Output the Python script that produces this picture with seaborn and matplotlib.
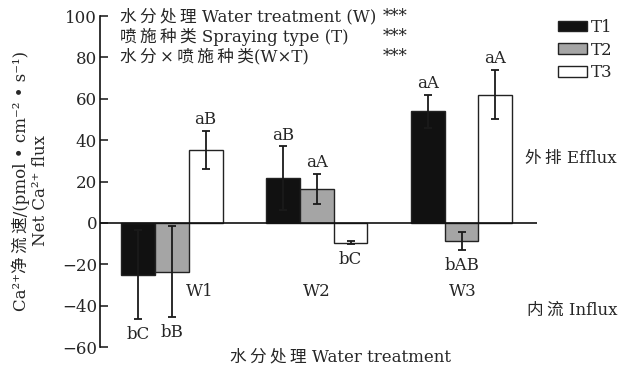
import numpy as np
import pandas as pd
import matplotlib
matplotlib.use("Agg")
import matplotlib.pyplot as plt
import seaborn as sns

# Net Ca2+ flux per water treatment and spraying type
water = ["W1", "W2", "W3"]
spray = ["T1", "T2", "T3"]
t1_flux = [-25.0, 21.7, 54.0]
t2_flux = [-23.5, 16.4, -8.6]
t3_flux = [35.3, -9.5, 62.0]
t1_err = [21.5, 15.3, 8.0]
t2_err = [22.0, 7.2, 4.4]
t3_err = [9.0, 0.6, 11.8]
t1_sig = ["bC", "aB", "aA"]
t2_sig = ["bB", "aA", "bAB"]
t3_sig = ["aB", "bC", "aA"]
yticks = [-60, -40, -20, 0, 20, 40, 60, 80, 100]

sns.set_theme(style="white")
plt.rcParams["font.family"] = ["DejaVu Serif", "Noto Sans CJK SC", "DejaVu Sans"]

THIN = "\u2009"


def spaced(text):
    """Put a thin space between neighbouring CJK characters (and ×)."""
    def wide(c):
        return ord(c) > 0x2E80 or c == "×"
    out = ""
    for i, c in enumerate(text):
        out += c
        if i + 1 < len(text) and wide(c) and wide(text[i + 1]):
            out += THIN
    return out


df = pd.DataFrame({
    "W": water * 3,
    "T": [s for s in spray for _ in water],
    "flux": t1_flux + t2_flux + t3_flux,
})

fig = plt.figure(figsize=(6.2, 3.74), dpi=100)
ax = fig.add_axes([0.161, 0.072, 0.705, 0.885])

palette = {"T1": "#111111", "T2": "#a5a5a5", "T3": "#ffffff"}
sns.barplot(data=df, x="W", y="flux", hue="T", order=water, hue_order=spray,
            palette=palette, edgecolor="#222222", linewidth=1.0, width=0.70,
            errorbar=None, ax=ax, saturation=1, legend=False)

FS = 12
errs = [t1_err, t2_err, t3_err]
vals = [t1_flux, t2_flux, t3_flux]
sigs = [t1_sig, t2_sig, t3_sig]
for cont, err, val, sig in zip(ax.containers, errs, vals, sigs):
    for bar, e, v, s in zip(cont.patches, err, val, sig):
        cx = bar.get_x() + bar.get_width() / 2
        ax.errorbar(cx, v, yerr=e, color="#1a1a1a", lw=1.3, capsize=3, capthick=1.3)
        if v >= 0:
            ax.text(cx, v + e + 5.5, s, ha="center", va="center", fontsize=FS)
        else:
            ax.text(cx, v - e - 7.5, s, ha="center", va="center", fontsize=FS)

# group names sit below the zero line
group_dx = [0.19, 0.0, 0.01]
for i, (w, dx) in enumerate(zip(water, group_dx)):
    ax.text(i + dx, -33, w, ha="center", va="center", fontsize=FS)

ax.axhline(0, color="#111111", lw=1.2, zorder=5)
ax.set_xlim(-0.497, 2.52)
ax.set_ylim(-60, 100)
ax.set_yticks(yticks)
ax.set_yticklabels([str(t) if t >= 0 else "\u2212" + str(-t) for t in yticks], fontsize=FS)
ax.set_xticks([])
ax.tick_params(axis="y", direction="in", length=6, width=1.2, left=True, pad=2)
for side in ["top", "right", "bottom"]:
    ax.spines[side].set_visible(False)
ax.spines["left"].set_linewidth(1.2)
ax.spines["left"].set_color("#111111")
ax.set_xlabel("")
ax.set_ylabel("")

fig.text(0.55, 0.045, spaced("水分处理") + " Water treatment", ha="center", va="center", fontsize=FS)
fig.text(0.034, 0.515, "Ca\u00b2\u207a" + spaced("净流速") + "/(pmol • cm\u207b\u00b2 • s\u207b\u00b9)",
         rotation=90, ha="center", va="center", fontsize=FS)
fig.text(0.065, 0.49, "Net Ca\u00b2\u207a flux", rotation=90, ha="center", va="center", fontsize=FS)

fig.text(0.847, 0.575, spaced("外排") + " Efflux", ha="left", va="center", fontsize=FS)
fig.text(0.85, 0.171, spaced("内流") + " Influx", ha="left", va="center", fontsize=FS)

stats = ["水分处理 Water treatment (W)", "喷施种类 Spraying type (T)", "水分×喷施种类(W×T)"]
for k, s in enumerate(stats):
    y = 0.955 - k * 0.0535
    fig.text(0.194, y, spaced(s), ha="left", va="center", fontsize=FS)
    fig.text(0.618, y, "***", ha="left", va="center", fontsize=FS)

handles = [plt.Rectangle((0, 0), 1, 1, fc=palette[s], ec="#222222", lw=1.0) for s in spray]
fig.legend(handles, spray, loc="upper left", bbox_to_anchor=(0.9, 0.95), frameon=False,
           fontsize=FS, handlelength=1.75, handleheight=0.6, handletextpad=0.25,
           labelspacing=0.35, borderaxespad=0, borderpad=0)

fig.savefig("out.png", dpi=100)
